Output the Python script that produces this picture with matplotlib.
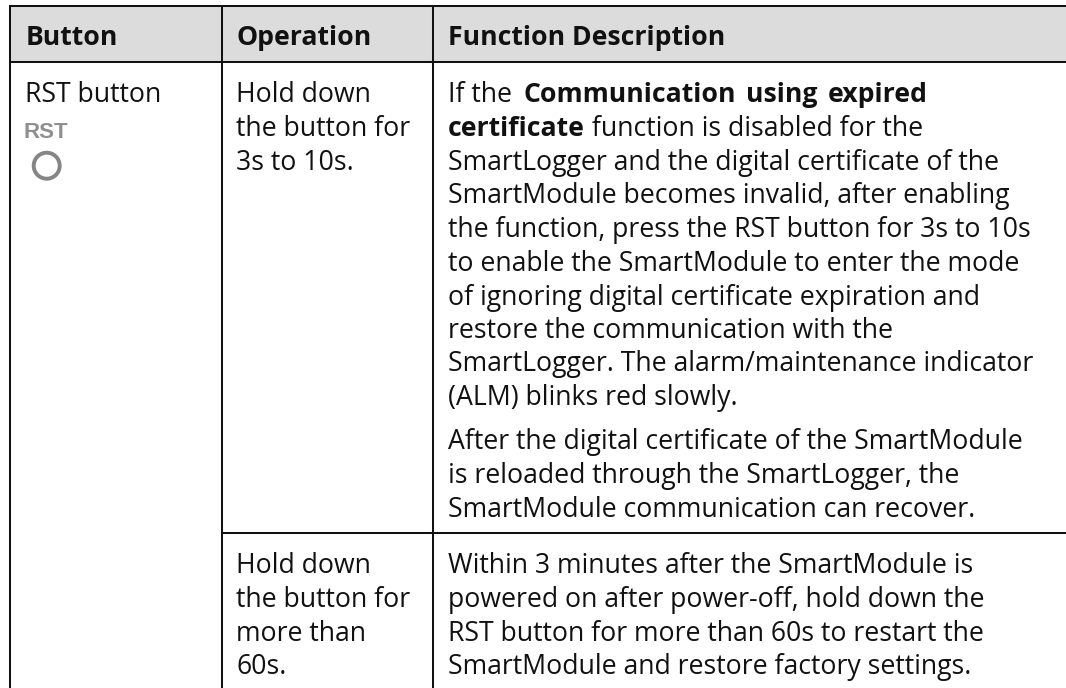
import matplotlib
matplotlib.use("Agg")
import matplotlib.pyplot as plt
from matplotlib.patches import Rectangle, Circle

W, H = 1066, 688
FS = 19.2
FONT = "Open Sans"
GAP_BEFORE_BOLD = 5
BOLD_SPACE_EXTRA = 3

headers = ["Button", "Operation", "Function Description"]
col_edges = [10, 221.7, 433.3, 1066]
row_edges = [6, 62.3, 533.3, 688]
header_fill = "#dcdcdc"

button_lines = ["RST button"]
op_lines_1 = ["Hold down", "the button for", "3s to 10s."]
op_lines_2 = ["Hold down", "the button for", "more than", "60s."]

desc_first = [
    [("If the ", False), ("Communication using expired", True)],
    [("certificate", True), (" function is disabled for the", False)],
    [("SmartLogger and the digital certificate of the", False)],
    [("SmartModule becomes invalid, after enabling", False)],
    [("the function, press the RST button for 3s to 10s", False)],
    [("to enable the SmartModule to enter the mode", False)],
    [("of ignoring digital certificate expiration and", False)],
    [("restore the communication with the", False)],
    [("SmartLogger. The alarm/maintenance indicator", False)],
    [("(ALM) blinks red slowly.", False)],
]
desc_second = [
    "After the digital certificate of the SmartModule",
    "is reloaded through the SmartLogger, the",
    "SmartModule communication can recover.",
]
desc_third = [
    "Within 3 minutes after the SmartModule is",
    "powered on after power-off, hold down the",
    "RST button for more than 60s to restart the",
    "SmartModule and restore factory settings.",
]

fig = plt.figure(figsize=(W / 100, H / 100), dpi=100)
ax = fig.add_axes([0, 0, 1, 1])
ax.set_xlim(0, W)
ax.set_ylim(H, 0)
ax.axis("off")

ax.add_patch(Rectangle((col_edges[0], row_edges[0]), col_edges[3] - col_edges[0],
                       row_edges[1] - row_edges[0], fc=header_fill, ec="none"))

lw = 1.45
c = "#111111"
ax.plot([col_edges[0], col_edges[3]], [row_edges[0]] * 2, color=c, lw=lw, solid_capstyle="projecting")
ax.plot([col_edges[0], col_edges[3]], [row_edges[1]] * 2, color=c, lw=lw)
ax.plot([col_edges[1], col_edges[3]], [row_edges[2]] * 2, color=c, lw=lw)
for x in col_edges[:3]:
    ax.plot([x, x], [row_edges[0], row_edges[3]], color=c, lw=lw)

renderer = fig.canvas.get_renderer()


def put(x, y, s, bold=False):
    return ax.text(x, y, s, fontsize=FS, family=FONT, color="#111111",
                   fontweight="bold" if bold else "normal", va="baseline", ha="left")


def advance(s, bold):
    probe = put(0, 0, "|" + s + "|", bold)
    bar = put(0, 0, "||", bold)
    w = probe.get_window_extent(renderer).width - bar.get_window_extent(renderer).width
    probe.remove()
    bar.remove()
    return w


def put_runs(x, y, runs):
    for i, (s, bold) in enumerate(runs):
        if bold and i > 0:
            x += GAP_BEFORE_BOLD
        if bold:
            for word in s.split(" "):
                put(x, y, word, True)
                x += advance(word + " ", True) + BOLD_SPACE_EXTRA
            x -= advance(" ", True) + BOLD_SPACE_EXTRA
        else:
            put(x, y, s, False)
            x += advance(s, False)


text_x = [25.3, 236.3, 448]
for x, h in zip(text_x, headers):
    put(x, 45, h, True)

put(text_x[0], 101.7, button_lines[0])
ax.text(46, 137.5, "RST", fontsize=16, family="Liberation Sans", color="#8f8f8f",
        fontweight="bold", ha="center", va="baseline")
ax.add_patch(Circle((46.7, 165.7), 13, fc="none", ec="#858585", lw=2.8))

y_first = [101.7, 135.7, 170, 203.5, 237.3, 271, 305, 338, 371.5, 405]
y_second = [449, 483, 517]
y_third = [572.7, 606.7, 640.7, 674]
y_op1 = [101.7, 136, 170]
y_op2 = [573, 606.7, 641, 674]

for y, s in zip(y_op1, op_lines_1):
    put(text_x[1], y, s)
for y, s in zip(y_op2, op_lines_2):
    put(text_x[1], y, s)
for y, runs in zip(y_first, desc_first):
    put_runs(text_x[2], y, runs)
for y, s in zip(y_second, desc_second):
    put(text_x[2], y, s)
for y, s in zip(y_third, desc_third):
    put(text_x[2], y, s)

fig.savefig("out.png", dpi=100, facecolor="white")
